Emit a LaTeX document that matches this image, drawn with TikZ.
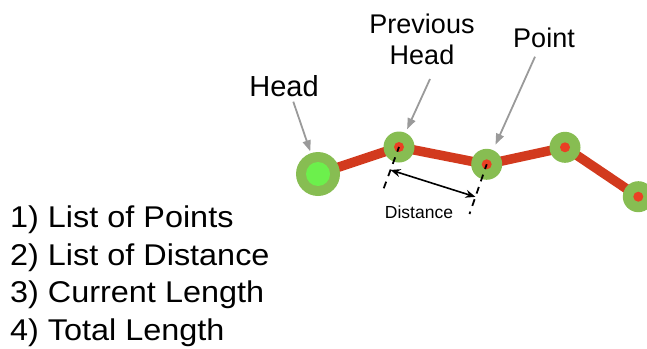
\documentclass[tikz,border=0pt]{standalone}
\usepackage{fontspec}
\setmainfont{Liberation Sans}
\newfontfamily\listfont[FakeStretch=1.08]{Liberation Sans}
\usetikzlibrary{arrows.meta,backgrounds,calc}
\definecolor{ptgreen}{HTML}{87BD52}
\definecolor{headgreen}{HTML}{6CF04C}
\definecolor{linered}{HTML}{D23A1E}
\definecolor{dotred}{HTML}{EA4024}
\definecolor{arrgray}{HTML}{9A9A9A}
\begin{document}
\begin{tikzpicture}[x=1pt,y=-1pt,
  ptnode/.style={circle,fill=ptgreen,minimum size=31pt,inner sep=0pt,outer sep=0pt},
  headnode/.style={circle,fill=ptgreen,minimum size=44pt,inner sep=0pt,outer sep=0pt},
  redline/.style={line width=9.5pt,linered,line join=round},
  grayarr/.style={arrgray,line width=1.8pt,-{Triangle[length=11pt,width=8pt]}},
  dashline/.style={black,line width=1.8pt,dash pattern=on 7pt off 6pt,dash phase=2pt},
  distarr/.style={black,line width=1.6pt,{Stealth[length=10pt,width=8pt]}-{Stealth[length=10pt,width=8pt]}},
  lbl/.style={inner sep=0pt,anchor=base,align=center}]
\useasboundingbox (0,0) rectangle (647,348);
\clip (0,0) rectangle (647,348);
% points
\node[headnode] (h) at (318,174) {};
\fill[headgreen] (h.center) circle (12);
\node[ptnode] (p1) at (399,147) {};
\node[ptnode] (p2) at (486.7,164.3) {};
\node[ptnode] (p3) at (565,147.3) {};
\node[ptnode] (p4) at (638.3,196.7) {};
\begin{scope}[on background layer]
\draw[redline] (h.center) -- (p1.center) -- (p2.center) -- (p3.center) -- (p4.center);
\end{scope}
\foreach \p in {p1,p2,p3,p4} \fill[dotred] (\p.center) circle (5);
% labels
\node[lbl,font=\fontsize{29}{30}\selectfont] (hl) at (284,96) {Head};
\node[lbl,font=\fontsize{27}{30.5}\selectfont] (phl) at (422,64) {Previous\\Head};
\node[lbl,font=\fontsize{27}{30}\selectfont] (pl) at (544,47) {Point};
\coordinate (hs) at (293.3,101.7);
\coordinate (phs) at (430,79);
\coordinate (ps) at (535,56.7);
\draw[grayarr,shorten >=2pt] (hs) -- (h);
\draw[grayarr,shorten >=4pt] (phs) -- (p1);
\draw[grayarr,shorten >=6pt] (ps) -- (p2);
% distance
\coordinate (d1) at (382,193);
\coordinate (d2) at (469.5,214);
\draw[dashline] (p1.center) -- (d1);
\draw[dashline] (p2.center) -- (d2);
\draw[distarr] ($(p1.center)!0.5!(d1)$) -- ($(p2.center)!0.655!(d2)$);
\node[lbl,font=\fontsize{17.5}{20}\selectfont] (dl) at (419,218) {Distance};
% list
\node[inner sep=0pt,anchor=base west,font=\listfont\fontsize{30}{37.5}\selectfont,align=left] (list) at (10,340)
  {1) List of Points\\2) List of Distance\\3) Current Length\\4) Total Length};
\end{tikzpicture}
\end{document}
